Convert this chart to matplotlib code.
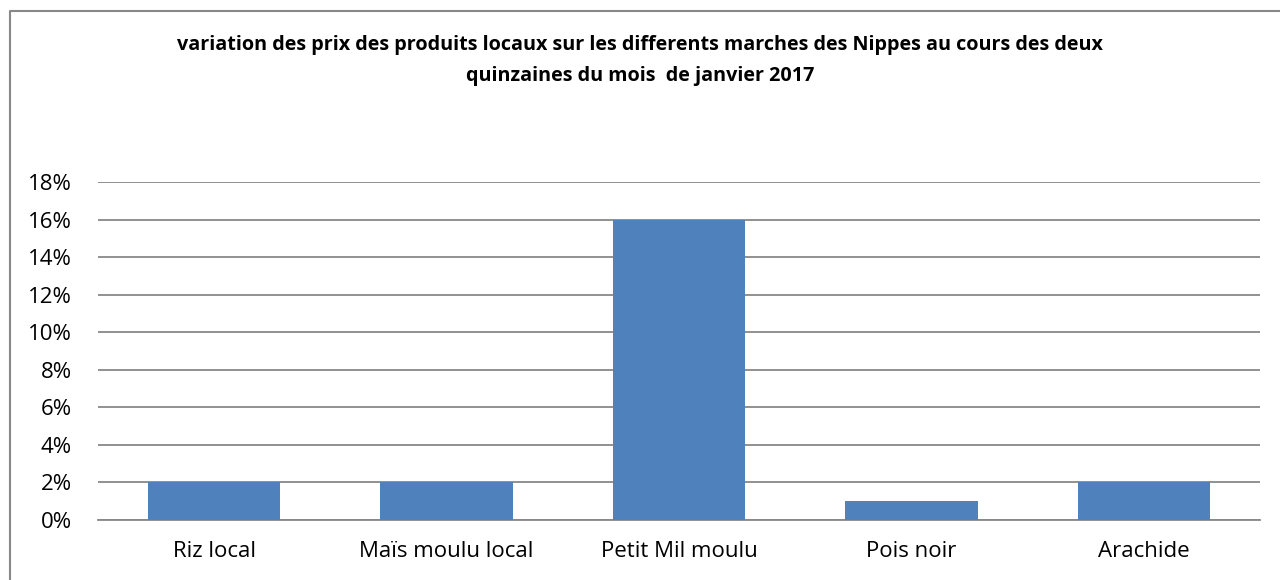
import matplotlib
matplotlib.use("Agg")
import matplotlib.pyplot as plt
from matplotlib.lines import Line2D
from matplotlib.ticker import FuncFormatter

# data
produits = ["Riz local", "Maïs moulu local", "Petit Mil moulu", "Pois noir", "Arachide"]
variation = [0.02, 0.02, 0.16, 0.01, 0.02]
yticks = [0, 0.02, 0.04, 0.06, 0.08, 0.10, 0.12, 0.14, 0.16, 0.18]

plt.rcParams['font.family'] = ['Open Sans', 'DejaVu Sans']

fig = plt.figure(figsize=(12.8, 5.8), dpi=100)
W, H = 1280, 580
ax = fig.add_axes([98 / W, 60 / H, (1260 - 98) / W, (520 - 182) / H])

x = range(len(produits))
ax.bar(x, variation, width=0.57, color='#4F81BD', zorder=3)

ax.set_xlim(-0.5, len(produits) - 0.5)
ax.set_ylim(0, 0.18)
ax.set_yticks(yticks)
ax.yaxis.set_major_formatter(FuncFormatter(lambda v, p: "{:.0f}%".format(v * 100)))
ax.set_xticks(list(x))
ax.set_xticklabels(produits)
ax.tick_params(axis='both', length=0, labelsize=16, colors='black')
ax.tick_params(axis='y', pad=19)
ax.tick_params(axis='x', pad=15)
ax.grid(axis='y', color='#888888', linewidth=1.3, zorder=0)
for s in ['top', 'right', 'left']:
    ax.spines[s].set_visible(False)
ax.spines['bottom'].set_color('#888888')
ax.spines['bottom'].set_linewidth(1.3)

fig.text(0.5, 1 - 45 / H, "variation des prix des produits locaux sur les differents marches des Nippes au cours des deux",
         ha='center', va='center', fontsize=14.2, fontweight='bold')
fig.text(0.5, 1 - 76 / H, "quinzaines du mois  de janvier 2017",
         ha='center', va='center', fontsize=14.2, fontweight='bold')

# chart border
fig.add_artist(Line2D([10 / W, 10 / W, 1], [0, 1 - 11 / H, 1 - 11 / H],
                      transform=fig.transFigure, color='#888888', linewidth=1.5))

fig.savefig("out.png", dpi=100)
